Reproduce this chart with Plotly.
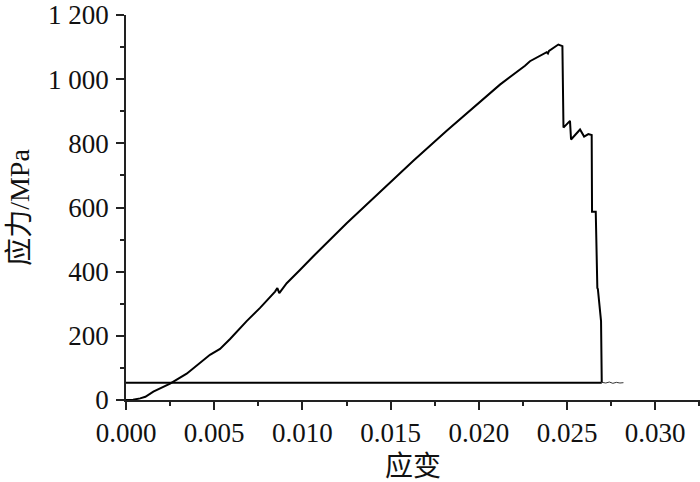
import plotly.graph_objects as go

# stress-strain curve
strain = [0, 0.0004, 0.0008, 0.0011, 0.00155, 0.0025, 0.00344, 0.0040, 0.00476,
          0.00533, 0.0059, 0.00684, 0.0076, 0.00845, 0.00858, 0.00869, 0.00911,
          0.00986, 0.01062, 0.01251, 0.0144, 0.01629, 0.01818, 0.01988, 0.0205,
          0.0212, 0.02262, 0.0229, 0.02385, 0.02392, 0.02398, 0.02451, 0.02474,
          0.0248, 0.02517, 0.02523, 0.02574, 0.02597, 0.02621, 0.0264, 0.02642,
          0.02663, 0.02672, 0.02675, 0.02693, 0.02697]
stress = [0, 1, 5, 10, 26, 51, 82, 108, 141,
          159, 190, 246, 287, 338, 349, 333, 364,
          405, 448, 551, 650, 746, 839, 920, 950,
          983, 1042, 1056, 1084, 1080, 1088, 1108, 1103,
          849, 870, 812, 843, 821, 829, 826, 587,
          587, 349, 346, 246, 55]

# noisy tail after fracture
tail_strain = [0.02697, 0.0272, 0.0274, 0.0276, 0.0278, 0.0280, 0.0282]
tail_stress = [55, 53, 56, 52, 55, 53, 54]

# horizontal line back to the start
base_strain = [0, 0.02697]
base_stress = [54, 54]

FONT = "Liberation Serif, Times New Roman, Noto Sans CJK SC, serif"

fig = go.Figure()

fig.add_trace(go.Scatter(x=base_strain, y=base_stress, mode="lines",
                         line=dict(color="black", width=2), showlegend=False))
fig.add_trace(go.Scatter(x=tail_strain, y=tail_stress, mode="lines",
                         line=dict(color="#333333", width=1), showlegend=False))
fig.add_trace(go.Scatter(x=strain, y=stress, mode="lines",
                         line=dict(color="black", width=2), showlegend=False))

axis_common = dict(
    showline=True, linecolor="#222222", linewidth=1.5,
    ticks="outside", ticklen=8, tickwidth=1.5, tickcolor="#222222",
    showgrid=False, zeroline=False, mirror=False,
    tickfont=dict(family=FONT, size=27, color="#111111"),
    ticklabeloverflow="allow",
)

fig.update_xaxes(
    range=[0, 0.03254], tick0=0, dtick=0.005, tickformat=".3f",
    minor=dict(ticks="outside", ticklen=4, tickwidth=1.5, tickcolor="#222222", dtick=0.0025),
    title=dict(text="应变", font=dict(family=FONT, size=28, color="#111111"), standoff=14),
    ticklabelstandoff=0,
    **axis_common,
)
fig.update_yaxes(
    range=[0, 1200], tick0=0, dtick=200, tickformat=",d",
    minor=dict(ticks="outside", ticklen=4, tickwidth=1.5, tickcolor="#222222", dtick=100),
    title=dict(text="应力/MPa", font=dict(family=FONT, size=28, color="#111111"), standoff=10),
    ticklabelstandoff=2,
    **axis_common,
)

fig.update_layout(
    width=700, height=482,
    margin=dict(l=126, r=0, t=11, b=82),
    plot_bgcolor="white", paper_bgcolor="white",
    separators=". ",
)

# drop the page's default body margin so the figure sits at the top-left corner
fig.write_html("out.html", config={"displayModeBar": False},
               post_script="document.body.style.margin='0';")
